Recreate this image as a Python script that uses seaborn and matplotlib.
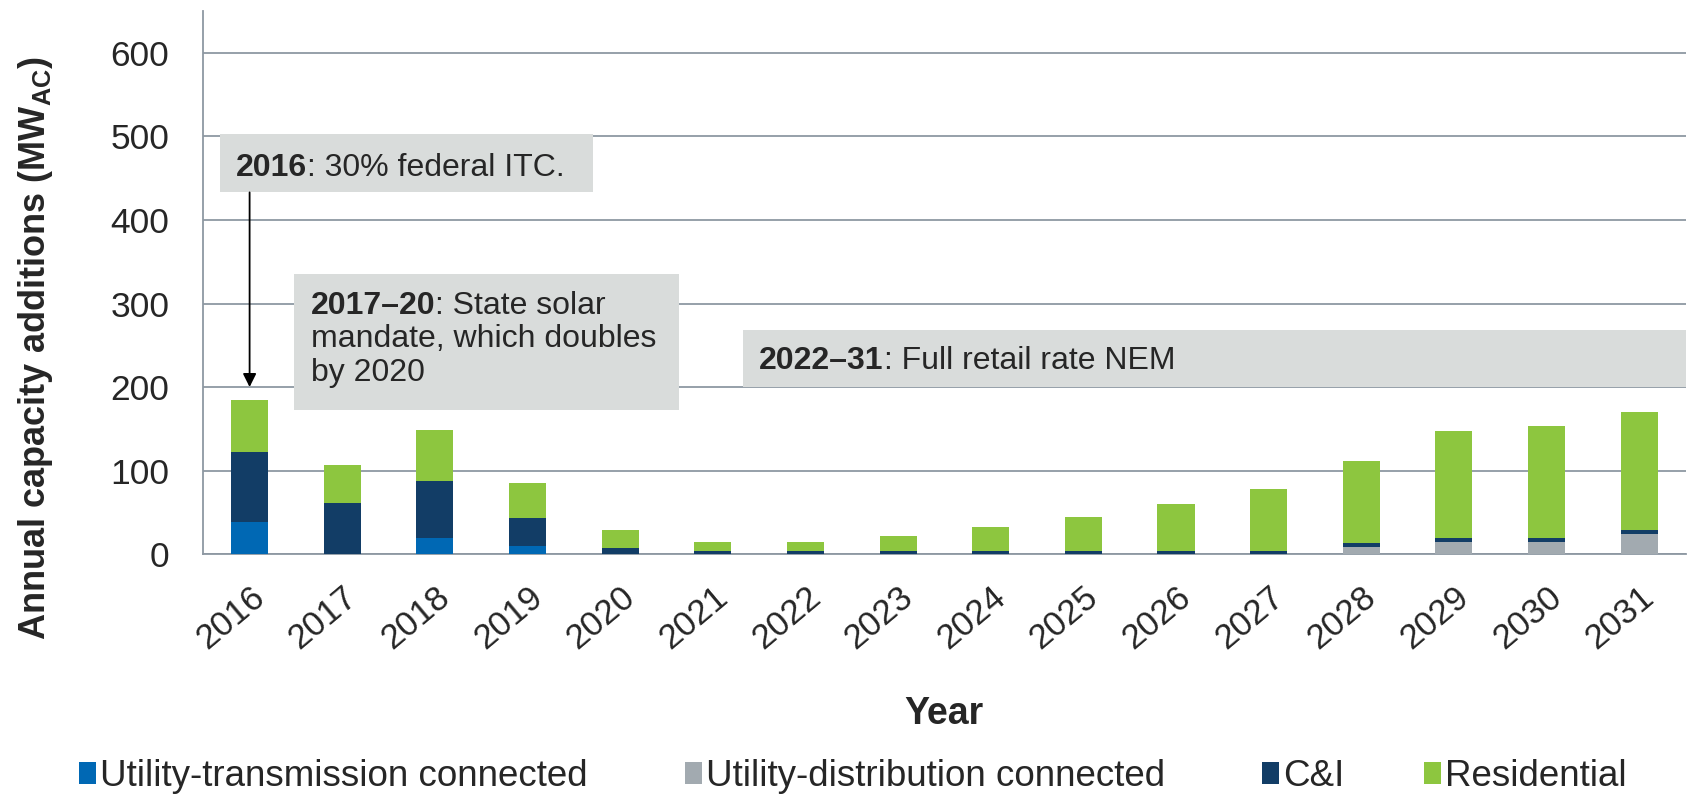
import matplotlib
matplotlib.use("Agg")
import matplotlib.pyplot as plt
from matplotlib.patches import Patch, Rectangle
import seaborn as sns
import numpy as np
import pandas as pd

years = ["2016", "2017", "2018", "2019", "2020", "2021", "2022", "2023",
         "2024", "2025", "2026", "2027", "2028", "2029", "2030", "2031"]
utility_transmission = [39, 0, 19, 10, 0, 0, 0, 0, 0, 0, 0, 0, 0, 0, 0, 0]
utility_distribution = [0, 0, 0, 0, 0, 0, 0, 0, 0, 0, 0, 0, 9, 14, 14, 24]
c_and_i = [83, 61, 68, 33, 7, 3.5, 3.5, 3.5, 3.5, 3.5, 3.5, 3.5, 4.5, 5, 5, 5]
residential = [62, 46, 61, 42, 22, 10.5, 10.5, 18, 29, 41.5, 56.5, 74.5, 97.5, 128, 134, 141]
series_names = ["Utility-transmission connected", "Utility-distribution connected",
                "C&I", "Residential"]
colors = ["#0068b4", "#a2aab0", "#123d66", "#8dc63f"]
yticks = [0, 100, 200, 300, 400, 500, 600]

sns.set_style("white")
plt.rcParams["font.family"] = ["Liberation Sans", "DejaVu Sans"]
plt.rcParams["mathtext.fontset"] = "custom"
plt.rcParams["mathtext.rm"] = "Liberation Sans"
plt.rcParams["mathtext.bf"] = "Liberation Sans:bold"

df = pd.DataFrame({"year": years,
                   "t": utility_transmission, "d": utility_distribution,
                   "c": c_and_i, "r": residential})
df["c1"] = df["t"]
df["c2"] = df["c1"] + df["d"]
df["c3"] = df["c2"] + df["c"]
df["c4"] = df["c3"] + df["r"]

fig = plt.figure(figsize=(16.94, 7.95), dpi=100)
ax = fig.add_axes([0.12, 0.303, 0.875, 0.683])

gridc = "#8e98a2"
for col, colr in zip(["c4", "c3", "c2", "c1"], colors[::-1]):
    sns.barplot(data=df, x="year", y=col, color=colr, saturation=1,
                width=0.4, ax=ax, order=years, linewidth=0, zorder=3)

ax.set_xlim(-0.5, len(years) - 0.5)
ax.set_ylim(0, 650)
ax.set_yticks(yticks)
ax.set_yticklabels([str(v) for v in yticks], fontsize=25.5)
ax.yaxis.grid(True, color=gridc, linewidth=1.3, zorder=0)
ax.set_axisbelow(True)
for s in ["top", "right"]:
    ax.spines[s].set_visible(False)
for s in ["left", "bottom"]:
    ax.spines[s].set_color(gridc)
    ax.spines[s].set_linewidth(1.3)

ax.tick_params(axis="y", which="major", direction="out", length=8.5, width=1.3,
               color=gridc, pad=16)
ax.set_xticks(range(len(years)))
ax.set_xticklabels(years, rotation=40, ha="right", va="top",
                   rotation_mode="anchor", fontsize=25)
ax.tick_params(axis="x", which="major", length=0, pad=19)
ax.set_xticks(np.arange(-0.5, len(years), 1.0), minor=True)
ax.tick_params(axis="x", which="minor", direction="out", length=8, width=1.3, color=gridc)

ax.set_xlabel("Year", fontsize=27, fontweight="bold")
ax.xaxis.label.set_va("center")
ax.xaxis.set_label_coords(0.5, -0.295)
ax.set_ylabel(r"Annual capacity additions (MW$_{\mathbf{AC}}$)", fontsize=26,
              fontweight="bold")
ax.yaxis.set_label_coords(-0.10, 0.38)

boxc = "#d9dcdb"
boxes = [(-0.316, 433, 4.026, 70), (0.48, 173, 4.15, 162.5), (5.33, 200, 10.17, 68)]
for (bx, by, bw, bh) in boxes:
    ax.add_patch(Rectangle((bx, by), bw, bh, facecolor=boxc, edgecolor="none", zorder=2))

fs = 23
def bold_then(x, y, b, rest):
    t = ax.text(x, y, b, fontsize=fs, fontweight="bold", va="baseline", ha="left", zorder=5)
    ax.annotate(rest, xy=(1, 0), xycoords=t, va="bottom", ha="left", fontsize=fs, zorder=5)

bold_then(-0.15, 453, "2016", ": 30% federal ITC.")
bold_then(0.66, 287.5, "2017\u201320", ": State solar")
ax.text(0.66, 247.5, "mandate, which doubles", fontsize=fs, va="baseline", ha="left", zorder=5)
ax.text(0.66, 207.5, "by 2020", fontsize=fs, va="baseline", ha="left", zorder=5)
bold_then(5.5, 221.5, "2022\u201331", ": Full retail rate NEM")

ax.annotate("", xy=(0, 200), xytext=(0, 433),
            arrowprops=dict(arrowstyle="-|>", color="black", lw=1.3,
                            mutation_scale=20, shrinkA=0, shrinkB=0), zorder=6)

leg_x = [0.0466, 0.4044, 0.745, 0.8406]
for name, c, lx in zip(series_names, colors, leg_x):
    fig.legend([Patch(facecolor=c, edgecolor="none")], [name], loc="center left",
               bbox_to_anchor=(lx, 0.0233), frameon=False, fontsize=26.5,
               handlelength=0.45, handleheight=0.55, handletextpad=0.12,
               borderpad=0, borderaxespad=0)

fig.savefig("out.png", dpi=100)
